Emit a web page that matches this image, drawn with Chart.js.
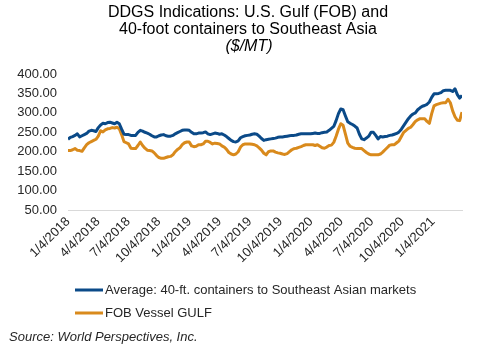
<!DOCTYPE html>
<html>
<head>
<meta charset="utf-8">
<style>
  html, body { margin: 0; padding: 0; background: #fff; }
  #wrap { width: 501px; height: 349px; }
</style>
</head>
<body>
<div id="wrap"><canvas id="chart" width="501" height="349"></canvas></div>
<script src="https://cdn.jsdelivr.net/npm/chart.js@4/dist/chart.umd.min.js"></script>
<script>
'use strict';

// ── Data (weekly, $/MT) ───────────────────────────────────────
const START_DATE = '1/4/2018';
const TICK_LABELS = [
  '1/4/2018', '4/4/2018', '7/4/2018', '10/4/2018',
  '1/4/2019', '4/4/2019', '7/4/2019', '10/4/2019',
  '1/4/2020', '4/4/2020', '7/4/2020', '10/4/2020', '1/4/2021'
];
const SERIES_NAMES = [
  'Average: 40-ft. containers to Southeast Asian markets',
  'FOB Vessel GULF'
];
const CONTAINERS_SEA = [
  232, 237, 239, 242, 246, 238, 241, 244, 247, 253,
  255, 254, 252, 262, 269, 273, 272, 275, 276, 274,
  272, 276, 272, 258, 245, 244, 244, 242, 242, 242,
  250, 255, 253, 250, 248, 245, 241, 238, 238, 241,
  243, 244, 241, 240, 240, 242, 246, 249, 252, 255,
  256, 256, 255, 250, 246, 246, 248, 248, 249, 251,
  246, 244, 246, 248, 247, 245, 246, 243, 239, 234,
  229, 226, 225, 228, 236, 239, 241, 242, 243, 245,
  246, 245, 240, 234, 229, 231, 232, 233, 234, 235,
  237, 238, 238, 239, 240, 241, 242, 242, 243, 245,
  246, 246, 246, 246, 246, 247, 248, 247, 247, 249,
  250, 251, 255, 260, 265, 280, 298, 310, 308, 292,
  277, 273, 270, 266, 261, 245, 233, 231, 235, 240,
  250, 250, 242, 233, 239, 238, 239, 240, 242, 243,
  245, 247, 251, 258, 267, 276, 285, 292, 297, 300,
  308, 313, 317, 319, 322, 328, 340, 349, 349, 350,
  352, 357, 358, 358, 358, 355, 362, 347, 338, 345
];
const FOB_GULF = [
  203, 203, 205, 208, 204, 203, 201, 210, 218, 223,
  226, 229, 232, 240, 254, 251, 256, 259, 260, 262,
  261, 263, 259, 244, 226, 223, 220, 209, 208, 208,
  216, 225, 216, 209, 204, 203, 202, 197, 190, 185,
  183, 183, 185, 187, 188, 192, 200, 206, 210, 218,
  223, 225, 225, 215, 213, 214, 218, 218, 220, 227,
  227, 224, 220, 222, 221, 220, 215, 212, 206, 198,
  194, 192, 194, 200, 212, 218, 220, 220, 220, 219,
  218, 215, 210, 204, 196, 192, 200, 202, 202, 199,
  197, 196, 194, 193, 195, 200, 205, 208, 209, 211,
  213, 216, 218, 218, 218, 218, 216, 218, 214, 210,
  209, 212, 216, 217, 224, 240, 258, 272, 268, 245,
  222, 214, 211, 209, 208, 208, 208, 203, 198, 194,
  192, 192, 192, 192, 194, 199, 205, 211, 217, 218,
  218, 223, 228, 239, 250, 255, 260, 263, 270, 278,
  282, 285, 285, 285, 278, 273, 298, 318, 321, 323,
  325, 326, 326, 335, 326, 305, 290, 281, 280, 302
];
const SERIES_COLORS = ['#0B4A88', '#D98A1C'];

const TITLE_LINES = ['DDGS Indications: U.S. Gulf (FOB) and', '40-foot containers to Southeast Asia'];
const UNIT_LINE = '($/MT)';
const SOURCE_TEXT = 'Source: World Perspectives, Inc.';

// ── Helpers ───────────────────────────────────────────────────
const FONT = "'Liberation Sans', Arial, sans-serif";
const TEXT = '#262626';

function parseMDY(s) {
  const [m, d, y] = s.split('/').map(Number);
  return Date.UTC(y, m - 1, d);
}
const DAY_MS = 86400000;
const t0 = parseMDY(START_DATE);
const dayOf = (s) => (parseMDY(s) - t0) / DAY_MS;

const TICK_DAYS = TICK_LABELS.map(dayOf);
const toPoints = (arr) => arr.map((v, i) => ({ x: i * 7, y: v }));
const LAST_DAY = (CONTAINERS_SEA.length - 1) * 7;

// ── Title, legend and source text ─────────────────────────────
const decorations = {
  id: 'decorations',
  afterDraw(chart) {
    const ctx = chart.ctx;
    ctx.save();
    ctx.textBaseline = 'middle';

    // heading, centred a little right of the canvas middle
    ctx.fillStyle = '#000';
    ctx.textAlign = 'center';
    ctx.font = `16px ${FONT}`;
    ctx.fillText(TITLE_LINES[0], 248, 13);
    ctx.fillText(TITLE_LINES[1], 248, 30);
    ctx.font = `italic 16px ${FONT}`;
    ctx.fillText(UNIT_LINE, 249, 47);

    // stacked legend
    ctx.textAlign = 'left';
    ctx.font = `13px ${FONT}`;
    chart.data.datasets.forEach((ds, i) => {
      const y = 290 + i * 23;
      ctx.strokeStyle = ds.borderColor;
      ctx.lineWidth = 3;
      ctx.beginPath();
      ctx.moveTo(75, y);
      ctx.lineTo(103, y);
      ctx.stroke();
      ctx.fillStyle = TEXT;
      ctx.fillText(ds.label, 105, y);
    });

    ctx.font = `italic 13px ${FONT}`;
    ctx.fillText(SOURCE_TEXT, 9, 337);
    ctx.restore();
  }
};

// ── Chart ─────────────────────────────────────────────────────
new Chart(document.getElementById('chart'), {
  type: 'line',
  data: {
    datasets: [CONTAINERS_SEA, FOB_GULF].map((arr, i) => ({
      label: SERIES_NAMES[i],
      data: toPoints(arr),
      borderColor: SERIES_COLORS[i],
      backgroundColor: SERIES_COLORS[i],
      borderWidth: 3,
      pointRadius: 0,
      tension: 0,
      borderJoinStyle: 'round'
    }))
  },
  options: {
    responsive: false,
    animation: false,
    layout: { padding: { left: 17, right: 39, top: 74, bottom: 79 } },
    plugins: {
      legend: { display: false },
      tooltip: { enabled: false },
      title: { display: false }
    },
    scales: {
      x: {
        type: 'linear',
        min: 0,
        max: LAST_DAY,
        grid: { display: false, drawTicks: false },
        border: { display: true, color: '#D9D9D9', width: 1 },
        afterBuildTicks: (scale) => { scale.ticks = TICK_DAYS.map(v => ({ value: v })); },
        afterFit: (scale) => { scale.height = 60; },
        ticks: {
          autoSkip: false,
          minRotation: 45,
          maxRotation: 45,
          padding: 4,
          color: TEXT,
          font: { family: FONT, size: 13 },
          callback: (v) => TICK_LABELS[TICK_DAYS.indexOf(v)]
        }
      },
      y: {
        min: 50,
        max: 400,
        grid: { display: false, drawTicks: false },
        border: { display: false },
        afterFit: (scale) => { scale.width = 51; },
        ticks: {
          stepSize: 50,
          padding: 11,
          color: TEXT,
          font: { family: FONT, size: 13 },
          callback: (v) => v.toFixed(2)
        }
      }
    }
  },
  plugins: [decorations]
});
</script>
</body>
</html>
